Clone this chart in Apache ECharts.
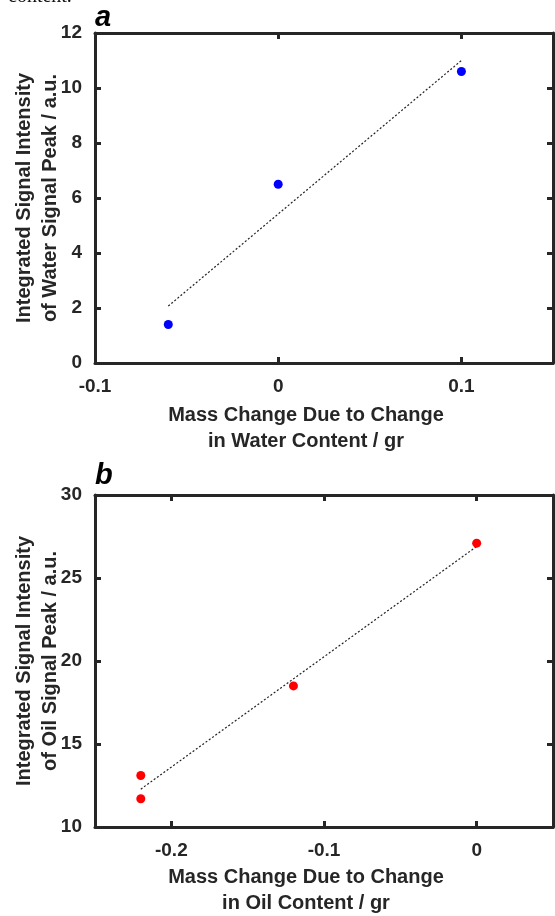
<!DOCTYPE html>
<html>
<head>
<meta charset="utf-8">
<script src="https://cdn.jsdelivr.net/npm/echarts@6/dist/echarts.min.js"></script>
<style>
  html, body { margin: 0; padding: 0; background: #fff; }
  #chart { width: 555px; height: 916px; }
</style>
</head>
<body>
<div id="chart"></div>
<script>
// Panel a: water content calibration
const waterX = [-0.06, 0, 0.1];
const waterY = [1.4, 6.5, 10.6];
const waterFitX = [-0.06, 0.1];
const waterFitY = [2.07, 11.0];
const waterXTicks = [-0.1, 0, 0.1];

// Panel b: oil content calibration
const oilX = [-0.22, -0.22, -0.12, 0];
const oilY = [13.1, 11.7, 18.5, 27.1];
const oilFitX = [-0.22, 0];
const oilFitY = [12.28, 26.9];
const oilXTicks = [-0.2, -0.1, 0];

const INK = '#262626';
const FONT = '"Liberation Sans", Arial, sans-serif';

const pairs = (xs, ys) => xs.map((x, i) => [x, ys[i]]);

function lineAxis(extra) {
  return Object.assign({
    axisLine: { show: true, onZero: false, lineStyle: { color: INK, width: 3 } },
    axisTick: { show: true, inside: true, length: 6, lineStyle: { color: INK, width: 3 } },
    splitLine: { show: false },
    axisLabel: { show: false }
  }, extra);
}

function xAxes(gridIndex, min, max, ticks) {
  const tickCfg = { show: true, inside: true, length: 6, customValues: ticks, lineStyle: { color: INK, width: 3 } };
  return [
    lineAxis({
      type: 'value', gridIndex, min, max, position: 'bottom',
      axisTick: tickCfg,
      axisLabel: {
        show: true, customValues: ticks, margin: 14,
        color: INK, fontFamily: FONT, fontWeight: 'bold', fontSize: 19,
        formatter: v => (Math.abs(v) < 1e-9 ? '0' : String(+v.toFixed(2)))
      }
    }),
    lineAxis({
      type: 'value', gridIndex, min, max, position: 'top',
      axisTick: tickCfg
    })
  ];
}

function yAxes(gridIndex, min, max, interval) {
  return [
    lineAxis({
      type: 'value', gridIndex, min, max, interval, position: 'left',
      axisLabel: {
        show: true, margin: 13,
        color: INK, fontFamily: FONT, fontWeight: 'bold', fontSize: 19
      }
    }),
    lineAxis({
      type: 'value', gridIndex, min, max, interval, position: 'right'
    })
  ];
}

const fitLine = {
  type: 'line', showSymbol: false, symbol: 'none', silent: true,
  lineStyle: { color: '#222', width: 1.2, type: [2, 2] }, z: 1
};

function titleText(text, x, y, rotate) {
  return {
    type: 'text', x, y, rotation: rotate ? Math.PI / 2 : 0,
    style: {
      text, fill: INK, font: 'bold 20px ' + FONT,
      align: 'center', verticalAlign: 'middle', lineHeight: 26
    }
  };
}

const chart = echarts.init(document.getElementById('chart'), null, { renderer: 'canvas' });

chart.setOption({
  animation: false,
  backgroundColor: '#fff',
  grid: [
    { left: 95, top: 33, width: 458, height: 330 },
    { left: 95, top: 495, width: 458, height: 332 }
  ],
  xAxis: [
    ...xAxes(0, -0.1, 0.15, waterXTicks),
    ...xAxes(1, -0.25, 0.05, oilXTicks)
  ],
  yAxis: [
    ...yAxes(0, 0, 12, 2),
    ...yAxes(1, 10, 30, 5)
  ],
  series: [
    Object.assign({}, fitLine, { xAxisIndex: 0, yAxisIndex: 0, data: pairs(waterFitX, waterFitY) }),
    {
      type: 'scatter', xAxisIndex: 0, yAxisIndex: 0, symbol: 'circle', symbolSize: 9,
      itemStyle: { color: '#0000ff', opacity: 1 }, data: pairs(waterX, waterY), z: 3
    },
    Object.assign({}, fitLine, { xAxisIndex: 2, yAxisIndex: 2, data: pairs(oilFitX, oilFitY) }),
    {
      type: 'scatter', xAxisIndex: 2, yAxisIndex: 2, symbol: 'circle', symbolSize: 9,
      itemStyle: { color: '#ff0000', opacity: 1 }, data: pairs(oilX, oilY), z: 3
    }
  ],
  graphic: [
    // tail of the caption text above the figure
    {
      type: 'text', x: 8, y: 7,
      style: { text: 'content.', fill: '#111', font: '20px "Liberation Serif", "Times New Roman", serif', align: 'left', verticalAlign: 'bottom' }
    },
    // panel letters
    {
      type: 'text', x: 95, y: 18,
      style: { text: 'a', fill: '#000', font: 'italic bold 29px ' + FONT, align: 'left', verticalAlign: 'middle' }
    },
    {
      type: 'text', x: 95, y: 476,
      style: { text: 'b', fill: '#000', font: 'italic bold 29px ' + FONT, align: 'left', verticalAlign: 'middle' }
    },
    // axis titles
    titleText('Integrated Signal Intensity\nof Water Signal Peak / a.u.', 37, 198, true),
    titleText('Mass Change Due to Change\nin Water Content / gr', 306, 428, false),
    titleText('Integrated Signal Intensity\nof Oil Signal Peak / a.u.', 37, 661, true),
    titleText('Mass Change Due to Change\nin Oil Content / gr', 306, 890, false)
  ]
});
</script>
</body>
</html>
